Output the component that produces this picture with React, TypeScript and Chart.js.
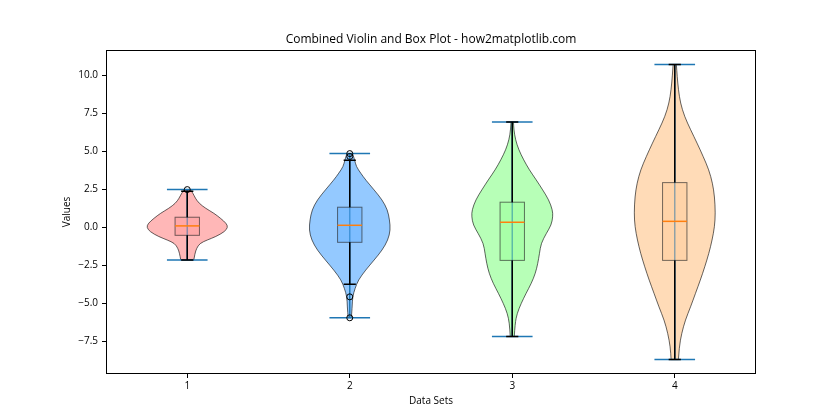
import React, { useEffect, useRef } from 'react';
import { Chart, registerables } from 'chart.js';

Chart.register(...registerables);

// ---- data ----
const positions = [1, 2, 3, 4];
const xTickValues = [1, 2, 3, 4];
const yTickValues = [-7.5, -5, -2.5, 0, 2.5, 5, 7.5, 10];

const violin1Y = [2.46, 2.24, 1.91, 1.58, 1.25, 0.92, 0.59, 0.26, 0.0, -0.29, -0.62, -0.84, -1.06, -1.39, -1.72, -2.16];
const violin1W = [0.08, 0.14, 0.2, 0.29, 0.45, 0.66, 0.82, 0.96, 1.0, 0.92, 0.7, 0.49, 0.31, 0.23, 0.19, 0.16];

const violin2Y = [4.85, 4.44, 4.0, 3.56, 3.12, 2.46, 1.8, 1.14, 0.48, -0.18, -0.84, -1.5, -2.16, -2.82, -3.48, -4.03, -4.58, -5.24, -5.96];
const violin2W = [0.07, 0.12, 0.16, 0.27, 0.39, 0.6, 0.8, 0.93, 0.98, 1.0, 0.94, 0.8, 0.6, 0.39, 0.21, 0.13, 0.07, 0.06, 0.04];

const violin3Y = [6.93, 6.42, 5.76, 5.1, 4.44, 3.78, 3.12, 2.46, 1.8, 1.14, 0.7, 0.15, -0.4, -1.06, -1.72, -2.37, -3.03, -3.69, -4.35, -5.01, -5.67, -6.33, -7.19];
const violin3W = [0.03, 0.04, 0.08, 0.16, 0.28, 0.42, 0.59, 0.75, 0.9, 0.99, 1.0, 0.96, 0.84, 0.71, 0.67, 0.63, 0.57, 0.47, 0.34, 0.22, 0.12, 0.07, 0.05];

const violin4Y = [10.71, 9.93, 9.06, 8.18, 7.3, 6.42, 5.54, 4.66, 3.78, 2.9, 2.02, 0.92, 0.04, -0.84, -1.72, -2.6, -3.48, -4.35, -5.24, -6.11, -6.99, -7.88, -8.71];
const violin4W = [0.04, 0.06, 0.09, 0.14, 0.24, 0.39, 0.55, 0.7, 0.84, 0.93, 0.98, 1.0, 0.98, 0.92, 0.84, 0.74, 0.63, 0.51, 0.39, 0.26, 0.17, 0.11, 0.09];

const q1Values = [-0.53, -0.99, -2.18, -2.18];
const medianValues = [0.09, 0.13, 0.33, 0.39];
const q3Values = [0.66, 1.32, 1.65, 2.94];
const whiskerLowValues = [-2.16, -3.75, -7.19, -8.71];
const whiskerHighValues = [2.37, 4.42, 6.93, 10.71];
const minValues = [-2.16, -5.96, -7.19, -8.71];
const maxValues = [2.48, 4.85, 6.93, 10.71];

const outlierX = [1, 2, 2, 2, 2];
const outlierY = [2.48, 4.85, 4.66, -4.58, -5.96];

const violinColors = ['255,153,153', '102,178,255', '153,255,153', '255,204,153'];

const titleText = 'Combined Violin and Box Plot - how2matplotlib.com';
const xLabelText = 'Data Sets';
const yLabelText = 'Values';

const FONT = '"Open Sans", "Noto Sans", "DejaVu Sans", sans-serif';

const violinYs = [violin1Y, violin2Y, violin3Y, violin4Y];
const violinWs = [violin1W, violin2W, violin3W, violin4W];

function smoothPath(ctx: CanvasRenderingContext2D, pts: number[][], start: boolean) {
  if (start) ctx.moveTo(pts[0][0], pts[0][1]);
  else ctx.lineTo(pts[0][0], pts[0][1]);
  for (let i = 1; i < pts.length - 1; i++) {
    const mx = (pts[i][0] + pts[i + 1][0]) / 2;
    const my = (pts[i][1] + pts[i + 1][1]) / 2;
    ctx.quadraticCurveTo(pts[i][0], pts[i][1], mx, my);
  }
  const last = pts[pts.length - 1];
  ctx.lineTo(last[0], last[1]);
}

const violinPlugin = {
  id: 'violinBox',
  beforeDatasetsDraw(chart: any) {
    const ctx: CanvasRenderingContext2D = chart.ctx;
    const xs = chart.scales.x;
    const ys = chart.scales.y;
    const HALF_VIOLIN = 0.25;
    const HALF_EXT = 0.125;
    const HALF_BOX = 0.075;
    const HALF_CAP = 0.0375;
    ctx.save();
    positions.forEach((pos, i) => {
      const yv = violinYs[i];
      const wv = violinWs[i];
      const left = yv.map((v, j) => [xs.getPixelForValue(pos - wv[j] * HALF_VIOLIN), ys.getPixelForValue(v)]);
      const right = yv.map((v, j) => [xs.getPixelForValue(pos + wv[j] * HALF_VIOLIN), ys.getPixelForValue(v)]).reverse();
      ctx.beginPath();
      smoothPath(ctx, left, true);
      smoothPath(ctx, right, false);
      ctx.closePath();
      ctx.fillStyle = `rgba(${violinColors[i]},0.7)`;
      ctx.fill();
      ctx.strokeStyle = 'rgba(0,0,0,0.6)';
      ctx.lineWidth = 1;
      ctx.stroke();
    });
    // violin extrema + bars
    ctx.strokeStyle = '#1f77b4';
    ctx.lineWidth = 1.5;
    positions.forEach((pos, i) => {
      const cx = xs.getPixelForValue(pos);
      const yMin = ys.getPixelForValue(minValues[i]);
      const yMax = ys.getPixelForValue(maxValues[i]);
      ctx.beginPath();
      ctx.moveTo(cx, yMin);
      ctx.lineTo(cx, yMax);
      ctx.moveTo(xs.getPixelForValue(pos - HALF_EXT), yMin);
      ctx.lineTo(xs.getPixelForValue(pos + HALF_EXT), yMin);
      ctx.moveTo(xs.getPixelForValue(pos - HALF_EXT), yMax);
      ctx.lineTo(xs.getPixelForValue(pos + HALF_EXT), yMax);
      ctx.stroke();
    });
    // boxes
    positions.forEach((pos, i) => {
      const x0 = xs.getPixelForValue(pos - HALF_BOX);
      const x1 = xs.getPixelForValue(pos + HALF_BOX);
      const cx = xs.getPixelForValue(pos);
      const yq1 = ys.getPixelForValue(q1Values[i]);
      const yq3 = ys.getPixelForValue(q3Values[i]);
      const ymed = ys.getPixelForValue(medianValues[i]);
      const ylo = ys.getPixelForValue(whiskerLowValues[i]);
      const yhi = ys.getPixelForValue(whiskerHighValues[i]);
      ctx.fillStyle = `rgba(${violinColors[i]},0.5)`;
      ctx.fillRect(x0, yq3, x1 - x0, yq1 - yq3);
      ctx.strokeStyle = 'rgba(40,40,40,0.65)';
      ctx.lineWidth = 1;
      ctx.strokeRect(x0, yq3, x1 - x0, yq1 - yq3);
      // whiskers
      ctx.strokeStyle = '#000';
      ctx.lineWidth = 1.5;
      ctx.beginPath();
      ctx.moveTo(cx, yq3);
      ctx.lineTo(cx, yhi);
      ctx.moveTo(cx, yq1);
      ctx.lineTo(cx, ylo);
      ctx.moveTo(xs.getPixelForValue(pos - HALF_CAP), yhi);
      ctx.lineTo(xs.getPixelForValue(pos + HALF_CAP), yhi);
      ctx.moveTo(xs.getPixelForValue(pos - HALF_CAP), ylo);
      ctx.lineTo(xs.getPixelForValue(pos + HALF_CAP), ylo);
      ctx.stroke();
      // median
      ctx.strokeStyle = '#ff7f0e';
      ctx.lineWidth = 1.5;
      ctx.beginPath();
      ctx.moveTo(x0, ymed);
      ctx.lineTo(x1, ymed);
      ctx.stroke();
    });
    ctx.restore();
  },
  afterDraw(chart: any) {
    const ctx: CanvasRenderingContext2D = chart.ctx;
    const a = chart.chartArea;
    ctx.save();
    ctx.strokeStyle = '#000';
    ctx.lineWidth = 1;
    ctx.strokeRect(Math.round(a.left) + 0.5, Math.round(a.top) + 0.5, Math.round(a.right - a.left) - 1, Math.round(a.bottom - a.top) - 1);
    ctx.fillStyle = '#000';
    ctx.textAlign = 'center';
    ctx.textBaseline = 'middle';
    ctx.font = `12px ${FONT}`;
    ctx.fillText(titleText, (a.left + a.right) / 2, 40);
    ctx.font = `10px ${FONT}`;
    ctx.fillText(xLabelText, (a.left + a.right) / 2, 401);
    ctx.translate(67, (a.top + a.bottom) / 2);
    ctx.rotate(-Math.PI / 2);
    ctx.fillText(yLabelText, 0, 0);
    ctx.restore();
  },
};

export default function App() {
  const ref = useRef<HTMLCanvasElement>(null);
  useEffect(() => {
    if (!ref.current) return;
    const chart = new Chart(ref.current, {
      type: 'scatter',
      data: {
        datasets: [
          {
            label: 'outliers',
            data: outlierX.map((x, i) => ({ x, y: outlierY[i] })),
            pointStyle: 'circle',
            pointRadius: 3,
            pointBorderColor: '#000',
            pointBackgroundColor: 'rgba(0,0,0,0)',
            pointBorderWidth: 1,
            showLine: false,
          },
        ],
      },
      options: {
        responsive: false,
        animation: false,
        events: [],
        layout: { padding: { top: 50, right: 84, left: 0, bottom: 0 } },
        plugins: { legend: { display: false }, tooltip: { enabled: false }, title: { display: false } },
        scales: {
          x: {
            type: 'linear',
            min: 0.5,
            max: 4.5,
            afterBuildTicks: (s: any) => { s.ticks = xTickValues.map((v) => ({ value: v })); },
            afterFit: (s: any) => { s.height = 46; },
            grid: { display: true, drawOnChartArea: false, drawTicks: true, tickLength: 4, tickColor: '#000', tickWidth: 1 },
            border: { display: false },
            ticks: { color: '#000', font: { family: FONT, size: 10 }, padding: 2, maxRotation: 0, callback: (v: any) => String(v) },
          },
          y: {
            type: 'linear',
            min: -9.66,
            max: 11.67,
            afterBuildTicks: (s: any) => { s.ticks = yTickValues.map((v) => ({ value: v })); },
            afterFit: (s: any) => { s.width = 106; },
            grid: { display: true, drawOnChartArea: false, drawTicks: true, tickLength: 4, tickColor: '#000', tickWidth: 1 },
            border: { display: false },
            ticks: {
              color: '#000',
              font: { family: FONT, size: 10 },
              padding: 4,
              callback: (v: any) => (Number(v) < 0 ? '\u2212' + Math.abs(Number(v)).toFixed(1) : Number(v).toFixed(1)),
            },
          },
        },
      },
      plugins: [violinPlugin],
    } as any);
    return () => chart.destroy();
  }, []);
  return (
    <div style={{ position: 'fixed', left: 0, top: 0, width: 840, height: 420, background: '#fff' }}>
      <canvas ref={ref} width={840} height={420} style={{ width: 840, height: 420 }} />
    </div>
  );
}
